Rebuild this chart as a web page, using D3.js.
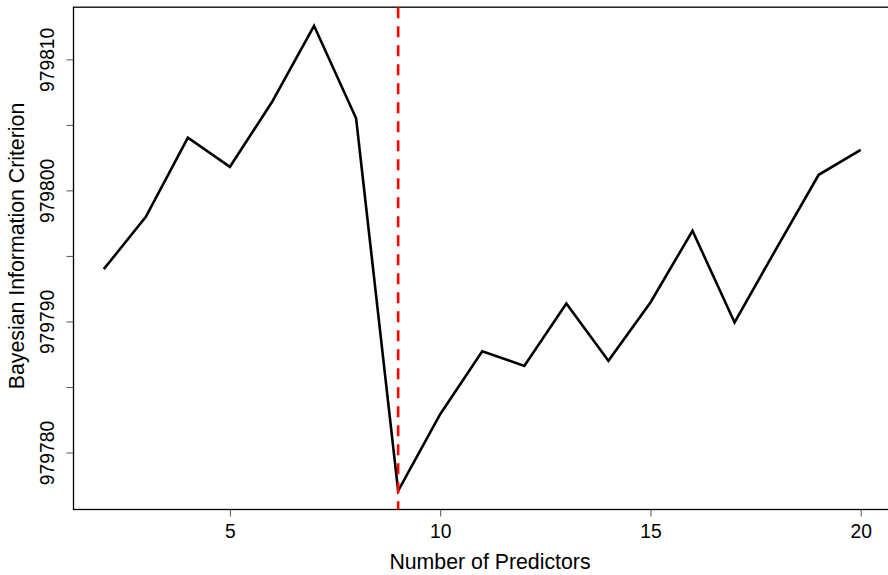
<!DOCTYPE html>
<html><head><meta charset="utf-8">
<script src="https://cdn.jsdelivr.net/npm/d3@7"></script>
<style>body{margin:0;background:#fff}svg{display:block}text{font-family:"Liberation Sans",Arial,sans-serif;fill:#000}</style>
</head><body>
<script>
const predictors = [2,3,4,5,6,7,8,9,10,11,12,13,14,15,16,17,18,19,20];
const bic = [979793.99,979797.98,979804.02,979801.8,979806.74,979812.56,979805.5,979777.07,979782.92,979787.73,979786.61,979791.37,979787.0,979791.45,979796.92,979789.92,979795.6,979801.19,979803.1];
const xTicks = [5,10,15,20];
const yTicks = [979780,979785,979790,979795,979800,979805,979810];
const yTickLabels = [979780,979790,979800,979810];
const bestModel = 9;
const xLabel = "Number of Predictors";
const yLabel = "Bayesian Information Criterion";

const W = 888, H = 575;
const mLeft = 73.5, mRight = 891, mTop = 7.2, mBottom = 509.5;
const svg = d3.select("body").append("svg").attr("width", W).attr("height", H);

const xmin = d3.min(predictors), xmax = d3.max(predictors);
const xr = (xmax - xmin) * 0.04;
const ymin = d3.min(bic), ymax = d3.max(bic);
const yr = (ymax - ymin) * 0.04;
const x = d3.scaleLinear().domain([xmin - xr, xmax + xr]).range([mLeft, mRight]);
const y = d3.scaleLinear().domain([ymin - yr, ymax + yr]).range([mBottom, mTop]);

const fsTick = 19.3, fsLab = 21.3;
// x axis
const xa = svg.append("g").attr("transform", `translate(0,${mBottom})`)
  .call(d3.axisBottom(x).tickValues(xTicks).tickSize(7).tickPadding(8).tickFormat(d3.format("d")));
xa.select(".domain").remove();
xa.selectAll("line").attr("stroke", "#555");
xa.selectAll("text").attr("font-size", fsTick).attr("font-family", "Liberation Sans, Arial, sans-serif");

// y axis
const ya = svg.append("g").attr("transform", `translate(${mLeft},0)`)
  .call(d3.axisLeft(y).tickValues(yTicks).tickSize(7).tickFormat(d => yTickLabels.includes(d) ? d3.format("d")(d) : ""));
ya.select(".domain").remove();
ya.selectAll("line").attr("stroke", "#555");
ya.selectAll("text").attr("font-size", fsTick).attr("font-family", "Liberation Sans, Arial, sans-serif")
  .attr("text-anchor", "middle").attr("dy", null).attr("x", null)
  .attr("transform", "translate(-20,0) rotate(-90)");

// box
svg.append("rect").attr("x", mLeft).attr("y", mTop).attr("width", mRight - mLeft).attr("height", mBottom - mTop)
  .attr("fill", "none").attr("stroke", "#000").attr("stroke-width", 1.3);

// line
const line = d3.line().x((d, i) => x(predictors[i])).y(d => y(d));
svg.append("path").datum(bic).attr("d", line).attr("fill", "none")
  .attr("stroke", "#000").attr("stroke-width", 2.6).attr("stroke-linejoin", "miter");

// vertical best-model line
svg.append("line").attr("x1", x(bestModel)).attr("x2", x(bestModel)).attr("y1", mTop).attr("y2", mBottom)
  .attr("stroke", "#ff0000").attr("stroke-width", 2.6).attr("stroke-dasharray", "11,8");

// labels
svg.append("text").attr("x", 490).attr("y", 569).attr("text-anchor", "middle")
  .attr("font-size", fsLab).text(xLabel);
svg.append("text").attr("transform", `translate(24,246) rotate(-90)`).attr("text-anchor", "middle")
  .attr("font-size", fsLab).text(yLabel);
</script>
</body></html>
